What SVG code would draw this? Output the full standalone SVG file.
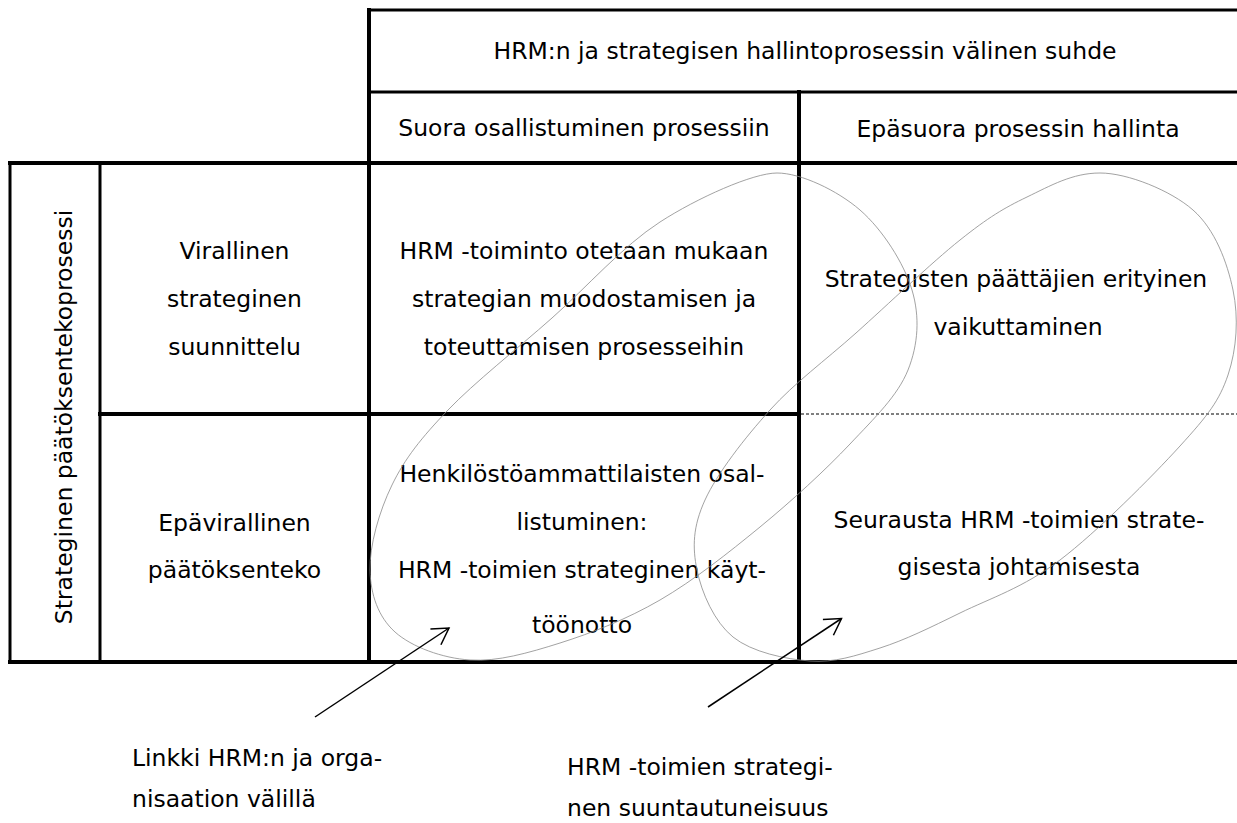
<svg xmlns="http://www.w3.org/2000/svg" width="1237" height="823" viewBox="0 0 1237 823">
<style>
  .t { font-family: "DejaVu Sans", "Liberation Sans", sans-serif; font-size: 23.5px; fill: #000; text-anchor: middle; }
  .tl { font-family: "DejaVu Sans", "Liberation Sans", sans-serif; font-size: 23.5px; fill: #000; text-anchor: start; }
  .ln { stroke: #000; stroke-width: 3; fill: none; stroke-linecap: square; }
  .th { stroke: #000; stroke-width: 4; fill: none; stroke-linecap: square; }
  .dash { stroke: #000; stroke-width: 1; stroke-dasharray: 3 2; fill: none; }
  .ell { stroke: #8a8a8a; stroke-width: 0.8; fill: none; }
  .arr { stroke: #000; stroke-width: 1.5; fill: none; marker-end: url(#ah); }
</style>
<defs>
  <marker id="ah" markerUnits="userSpaceOnUse" markerWidth="20" markerHeight="24" viewBox="-18 -12 20 24" refX="0" refY="0" orient="auto">
    <path d="M-16,-9.5 L0,0 L-16,9.5" fill="none" stroke="#000" stroke-width="1.5"/>
  </marker>
</defs>
<rect width="1237" height="823" fill="#fff"/>

<g id="grid">
  <line class="ln" x1="369" y1="10" x2="1240" y2="10"/>
  <line class="ln" x1="369" y1="92" x2="1240" y2="92"/>
  <line class="th" x1="10" y1="163" x2="1240" y2="163"/>
  <line class="th" x1="10" y1="662" x2="1240" y2="662"/>
  <line class="th" x1="100" y1="414" x2="799" y2="414"/>
  <line class="dash" x1="801" y1="414" x2="1237" y2="414"/>
  <line class="ln" x1="10" y1="163" x2="10" y2="662"/>
  <line class="ln" x1="100" y1="163" x2="100" y2="662"/>
  <line class="th" x1="369" y1="10" x2="369" y2="662"/>
  <line class="th" x1="799" y1="92" x2="799" y2="662"/>
</g>

<g id="header-main">
  <text class="t" x="805" y="59">HRM:n ja strategisen hallintoprosessin välinen suhde</text>
</g>
<g id="header-direct">
  <text class="t" x="584" y="136">Suora osallistuminen prosessiin</text>
</g>
<g id="header-indirect">
  <text class="t" x="1018" y="137">Epäsuora prosessin hallinta</text>
</g>
<g id="row-label">
  <text class="t" transform="translate(71.5,417) rotate(-90)" x="0" y="0">Strateginen päätöksentekoprosessi</text>
</g>
<g id="row-formal">
  <text class="t" x="234.5" y="259">Virallinen</text>
  <text class="t" x="234.5" y="307">strateginen</text>
  <text class="t" x="234.5" y="355">suunnittelu</text>
</g>
<g id="row-informal">
  <text class="t" x="234.5" y="531">Epävirallinen</text>
  <text class="t" x="234.5" y="578">päätöksenteko</text>
</g>
<g id="cell-formal-direct">
  <text class="t" x="584" y="259">HRM -toiminto otetaan mukaan</text>
  <text class="t" x="584" y="307">strategian muodostamisen ja</text>
  <text class="t" x="584" y="355">toteuttamisen prosesseihin</text>
</g>
<g id="cell-formal-indirect">
  <text class="t" x="1016" y="287">Strategisten päättäjien erityinen</text>
  <text class="t" x="1018" y="335">vaikuttaminen</text>
</g>
<g id="cell-informal-direct">
  <text class="t" x="582" y="482">Henkilöstöammattilaisten osal-</text>
  <text class="t" x="582" y="530">listuminen:</text>
  <text class="t" x="582" y="578">HRM -toimien strateginen käyt-</text>
  <text class="t" x="582" y="633">töönotto</text>
</g>
<g id="cell-informal-indirect">
  <text class="t" x="1019" y="528">Seurausta HRM -toimien strate-</text>
  <text class="t" x="1019" y="575">gisesta johtamisesta</text>
</g>

<g id="ellipse-link">
  <path class="ell" d="M777,173 C801,173 837.5,190.5 860,210 C882.5,229.5 904,263.3 912,290 C920,316.7 918.3,344.3 908,370 C897.7,395.7 874.7,417.8 850,444 C825.3,470.2 791.7,501 760,527 C728.3,553 693.3,580.7 660,600 C626.7,619.3 591.7,633 560,643 C528.3,653 497.5,661.8 470,660 C442.5,658.2 411.7,647 395,632 C378.3,617 370.5,594.5 370,570 C369.5,545.5 379,511.7 392,485 C405,458.3 421.3,437.8 448,410 C474.7,382.2 516.7,349.3 552,318 C587.3,286.7 622.5,246.2 660,222 C697.5,197.8 753,173 777,173 Z"/>
</g>
<g id="ellipse-orientation">
  <path class="ell" d="M1100,173 C1127.7,173 1170.8,190.5 1193,210 C1215.2,229.5 1227.2,262.5 1233,290 C1238.8,317.5 1236.8,349 1228,375 C1219.2,401 1208,415.2 1180,446 C1152,476.8 1096.7,532.2 1060,560 C1023.3,587.8 990,598.3 960,613 C930,627.7 905,640 880,648 C855,656 834.5,662.8 810,661 C785.5,659.2 751.8,652.2 733,637 C714.2,621.8 701.7,592.8 697,570 C692.3,547.2 692.8,526.7 705,500 C717.2,473.3 744.8,437.8 770,410 C795.2,382.2 824.3,361.3 856,333 C887.7,304.7 931.5,262.7 960,240 C988.5,217.3 1003.7,208.2 1027,197 C1050.3,185.8 1072.3,173 1100,173 Z"/>
</g>

<g id="label-link">
  <text class="tl" x="132" y="766">Linkki HRM:n ja orga-</text>
  <text class="tl" x="132" y="807">nisaation välillä</text>
</g>
<g id="label-orientation">
  <text class="tl" x="567" y="775">HRM -toimien strategi-</text>
  <text class="tl" x="567" y="816">nen suuntautuneisuus</text>
</g>

<g id="connectors">
  <line class="arr" x1="315" y1="717" x2="449" y2="628"/>
  <line class="arr" x1="708" y1="707" x2="841.5" y2="618.5"/>
</g>
</svg>
